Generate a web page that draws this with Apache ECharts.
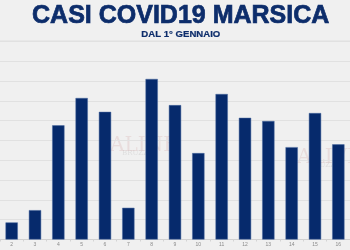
<!DOCTYPE html>
<html><head><meta charset="utf-8">
<script src="https://cdn.jsdelivr.net/npm/echarts@6/dist/echarts.min.js"></script>
<style>html,body{margin:0;padding:0;background:#f0f0f0}#c{width:350px;height:250px}</style>
</head><body><div id="c"></div>
<script>
const titleText = "CASI COVID19 MARSICA";
const subtitleText = "DAL 1° GENNAIO";
const categories = ["2","3","4","5","6","7","8","9","10","11","12","13","14","15","16"];
const cases = [4.3, 7.4, 28.8, 35.7, 32.2, 8.0, 40.5, 33.9, 21.8, 36.7, 30.7, 29.9, 23.3, 31.9, 24.0];
const yMax = 50, yStep = 5;

const chart = echarts.init(document.getElementById('c'), null, {renderer:'canvas'});
chart.setOption({
  backgroundColor:'#f0f0f0',
  animation:false,
  grid:{left:-7.4, right:-0.8, top:41.3, bottom:10.5, containLabel:false},
  xAxis:{type:'category', data:categories,
    axisLine:{lineStyle:{color:'#d0d0d0', width:1}},
    axisTick:{show:true, length:2, lineStyle:{color:'#d4d4d4'}},
    axisLabel:{fontSize:5, color:'#8a8a8a', margin:2.5, fontFamily:'Liberation Sans'}},
  yAxis:{type:'value', min:0, max:yMax, interval:yStep,
    axisLabel:{show:false}, axisLine:{show:false}, axisTick:{show:false},
    splitLine:{lineStyle:{color:'#e1e1e1', width:1}}},
  series:[{type:'bar', data:cases, barWidth:12.3,
    itemStyle:{color:'#062a6c', borderColor:'#4a6aa0', borderWidth:0.5}}],
  graphic:[
    {type:'text', x:180.7, y:16.6, style:{text:titleText, fill:'#0d2d6b', stroke:'#0d2d6b', lineWidth:0.7, font:'bold 25px "Liberation Sans"', textAlign:'center', textVerticalAlign:'middle'}},
    {type:'text', x:180.8, y:34.8, style:{text:subtitleText, fill:'#0d2d6b', stroke:'#0d2d6b', lineWidth:0.2, font:'bold 9.6px "Liberation Sans"', textAlign:'center', textVerticalAlign:'middle'}},
    {type:'line', shape:{x1:0,y1:41.3,x2:350,y2:41.3}, style:{stroke:'#c8c8c8', lineWidth:1}},
    {type:'text', x:110, y:146, style:{text:'ALINE', fill:'rgba(190,120,120,0.16)', font:'20px "DejaVu Serif"', textVerticalAlign:'middle'}},
    {type:'text', x:122, y:153, style:{text:'BRUZZO', fill:'rgba(140,140,140,0.18)', font:'7px "DejaVu Serif"', textVerticalAlign:'middle'}},
    {type:'text', x:297, y:158, style:{text:'ALIVE', fill:'rgba(190,120,120,0.16)', font:'20px "DejaVu Serif"', textVerticalAlign:'middle'}},
    {type:'text', x:309, y:165, style:{text:'BRUZZO', fill:'rgba(140,140,140,0.18)', font:'7px "DejaVu Serif"', textVerticalAlign:'middle'}}
  ]
});
</script></body></html>
